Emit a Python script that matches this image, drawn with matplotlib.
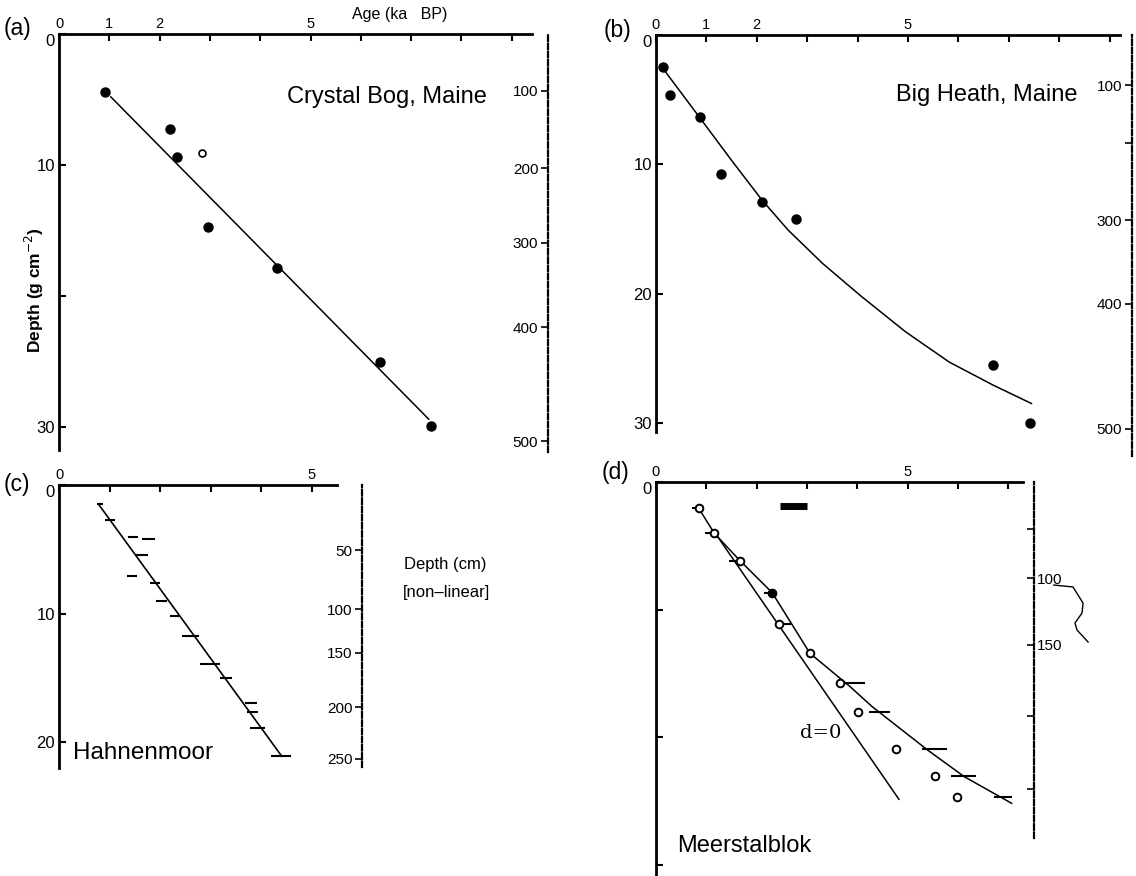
import numpy as np
import matplotlib
matplotlib.use('Agg')
import matplotlib.pyplot as plt

plt.rc('font', family='Liberation Sans', size=10)

# (a) Crystal Bog, Maine -- age (ka BP) vs depth (g cm-2)
a_age = [0.92, 2.21, 2.34, 2.97, 4.33, 6.39, 7.40]
a_depth = [4.4, 7.25, 9.4, 14.7, 17.9, 25.0, 29.9]
a_fit_age = [1.03, 7.35]
a_fit_depth = [4.8, 29.4]
a_odd_age, a_odd_depth = [2.84], [9.1]
a_cm_labels = ['100', '200', '300', '400', '500']
a_cm_at = [4.35, 10.23, 15.95, 22.37, 31.07]

# (b) Big Heath, Maine
b_age = [0.14, 0.28, 0.87, 1.28, 2.10, 2.77, 6.68, 7.42]
b_depth = [2.47, 4.64, 6.34, 10.75, 12.9, 14.2, 25.5, 30.0]
b_fit_age = [0.19, 0.87, 1.50, 2.10, 2.62, 3.30, 4.07, 4.95, 5.82, 6.70, 7.45]
b_fit_depth = [2.86, 6.4, 9.7, 12.75, 15.08, 17.65, 20.2, 22.95, 25.3, 27.1, 28.5]
b_cm_labels = ['100', '', '300', '400', '500']
b_cm_at = [3.87, 8.35, 14.31, 20.8, 30.47]

# (c) Hahnenmoor -- dated age ranges
c_fit_age = [0.78, 4.41]
c_fit_depth = [1.48, 21.1]
c_depth = [1.48, 2.72, 4.02, 4.23, 5.45, 7.06, 7.6, 9.0, 10.2, 11.75,
           13.9, 15.0, 17.0, 17.7, 18.9, 21.1]
c_lo = [0.75, 0.91, 1.37, 1.64, 1.50, 1.34, 1.80, 1.93, 2.20, 2.43,
        2.79, 3.19, 3.68, 3.72, 3.78, 4.19]
c_hi = [0.88, 1.11, 1.57, 1.91, 1.77, 1.54, 2.00, 2.14, 2.38, 2.78,
        3.19, 3.42, 3.93, 3.95, 4.07, 4.59]
c_cm_labels = ['50', '100', '150', '200', '250']
c_cm_at = [5.06, 9.65, 13.07, 17.28, 21.32]

# (d) Meerstalblok
d_age = [0.85, 1.15, 1.67, 2.31, 2.44, 3.06, 3.66, 4.02, 4.78, 5.54, 5.98]
d_depth = [2.06, 3.97, 6.16, 8.67, 11.15, 13.4, 15.77, 17.99, 20.9, 23.0, 24.7]
d_bar_depth = [2.06, 3.97, 6.16, 8.67, 11.15, 15.77, 17.99, 20.9, 23.0, 24.7]
d_bar_lo = [0.71, 0.98, 1.45, 2.15, 2.44, 3.75, 4.23, 5.29, 5.86, 6.71]
d_bar_hi = [0.85, 1.15, 1.67, 2.31, 2.69, 4.16, 4.66, 5.78, 6.36, 7.07]
d_fit_age = [0.85, 1.16, 1.67, 2.31, 3.06, 3.86, 4.30, 5.40, 6.13, 7.07]
d_fit_depth = [2.06, 4.02, 6.16, 8.67, 13.41, 16.03, 17.6, 20.99, 23.08, 25.16]
d_zero_age = [1.23, 4.83]
d_zero_depth = [4.31, 24.85]
d_box_age = [2.47, 3.01]
d_box_depth = [1.87, 1.87]
d_cm_labels = ['', '100', '150', '', '']
d_cm_at = [3.68, 7.52, 12.76, 18.32, 24.04]
squiggle_age = [7.91, 8.29, 8.49, 8.47, 8.33, 8.37, 8.59]
squiggle_depth = [8.07, 8.22, 9.48, 10.26, 11.04, 11.59, 12.53]

W, H = 1136, 876
fig = plt.figure(figsize=(W / 100, H / 100), dpi=100)


def box(x0, y0, x1, y1):
    return [x0 / W, 1 - y1 / H, (x1 - x0) / W, (y1 - y0) / H]


def panel(left, top, right, bottom, pxka, pxunit, nx, xlab, yticks, ylab):
    ax = fig.add_axes(box(left, top, right, bottom))
    ax.patch.set_visible(False)
    ax.set_xlim(0, (right - left) / pxka)
    ax.set_ylim((bottom - top) / pxunit, 0)
    ax.spines['right'].set_visible(False)
    ax.spines['bottom'].set_visible(False)
    ax.spines['top'].set_linewidth(2)
    ax.spines['left'].set_linewidth(2)
    ax.xaxis.tick_top()
    ax.set_xticks(range(nx + 1), [str(i) if i in xlab else '' for i in range(nx + 1)])
    ax.set_yticks(yticks, ylab)
    ax.tick_params(axis='x', direction='in', length=5, width=1.5, pad=2, labelsize=10.5)
    ax.tick_params(axis='y', direction='in', length=5, width=1.5, pad=3, labelsize=12)
    # the y "0" sits a little below the corner
    ax.get_yticklabels()[0].set_verticalalignment('top')
    return ax


def depth_scale(x, top, bottom, pxunit, pos, labels, side):
    r = fig.add_axes(box(x, top, x + 1, bottom))
    r.patch.set_visible(False)
    r.set_ylim((bottom - top) / pxunit, 0)
    r.set_xticks([])
    for s in r.spines.values():
        s.set_visible(False)
    sp = r.spines[side]
    sp.set_visible(True)
    sp.set_linestyle((0, (2.5, 1.2)))
    sp.set_linewidth(1.6)
    r.yaxis.set_ticks_position(side)
    r.set_yticks(pos, labels)
    r.tick_params(axis='y', direction='out' if side == 'left' else 'in',
                  length=5, width=1.2, labelsize=11, pad=2)
    return r


def ftext(x, y, s, **kw):
    fig.text(x / W, 1 - y / H, s, **kw)


# ---- (a)
ax = panel(59, 34, 532, 450, 50.3, 13.1, 9, [0, 1, 2, 5], [0, 10, 20, 30], ['0', '10', '', '30'])
ax.plot(a_fit_age, a_fit_depth, color='k', lw=1.1)
ax.plot(a_age, a_depth, 'o', color='k', ms=6.5)
ax.plot(a_odd_age, a_odd_depth, 'o', mfc='none', mec='k', ms=5, mew=1.2)
depth_scale(548, 34, 452, 13.1, a_cm_at, a_cm_labels, 'left')

# ---- (b)
ax = panel(656, 35, 1120, 432, 50.4, 12.93, 9, [0, 1, 2, 5], [0, 10, 20, 30], ['0', '10', '20', '30'])
ax.plot(b_fit_age, b_fit_depth, color='k', lw=1.1)
ax.plot(b_age, b_depth, 'o', color='k', ms=6.5)
depth_scale(1132, 35, 456, 12.93, b_cm_at, b_cm_labels, 'left')

# ---- (c)
ax = panel(59, 485, 337, 768, 50.5, 12.85, 5, [0, 5], [0, 10, 20], ['0', '10', '20'])
ax.plot(c_fit_age, c_fit_depth, color='k', lw=1.2)
ax.hlines(c_depth, c_lo, c_hi, color='k', lw=1.5)
depth_scale(362, 485, 767, 12.85, c_cm_at, c_cm_labels, 'left')

# ---- (d)
ax = panel(656, 482, 1023, 876, 50.3, 12.77, 7, [0, 5], [0, 10, 20, 30], ['0', '', '', ''])
ax.plot(d_fit_age, d_fit_depth, color='k', lw=1.1)
ax.plot(d_zero_age, d_zero_depth, color='k', lw=1.1)
ax.hlines(d_bar_depth, d_bar_lo, d_bar_hi, color='k', lw=1.5)
ax.plot(d_age, d_depth, 'o', mfc='white', mec='k', ms=5.5, mew=1.4)
ax.plot(d_age[3], d_depth[3], 'o', color='k', ms=5.5)
ax.plot(d_box_age, d_box_depth, color='k', lw=5, solid_capstyle='butt')
ax.plot(squiggle_age, squiggle_depth, color='k', lw=1, clip_on=False)
depth_scale(1033, 482, 838, 12.77, d_cm_at, d_cm_labels, 'right')

# ---- labels
ftext(4, 28, '(a)', fontsize=16.5, va='center')
ftext(604, 30, '(b)', fontsize=16.5, va='center')
ftext(4, 484, '(c)', fontsize=16.5, va='center')
ftext(602, 473, '(d)', fontsize=16.5, va='center')
ftext(352, 15, 'Age (ka   BP)', fontsize=11.5, va='center')
ftext(287, 97, 'Crystal Bog, Maine', fontsize=17, va='center')
ftext(896, 95, 'Big Heath, Maine', fontsize=17, va='center')
ftext(34, 290, 'Depth (g cm$^{-2}$)', fontsize=12.5, fontweight='bold',
      rotation=90, ha='center', va='center')
ftext(404, 565, 'Depth (cm)', fontsize=12, va='center')
ftext(403, 593, '[non\u2013linear]', fontsize=12, va='center')
ftext(73, 753, 'Hahnenmoor', fontsize=17.5, va='center')
ftext(800, 733, 'd=0', fontsize=14, va='center', family='DejaVu Serif')
ftext(677, 846, 'Meerstalblok', fontsize=17, va='center')

fig.savefig('out.png', dpi=100)
